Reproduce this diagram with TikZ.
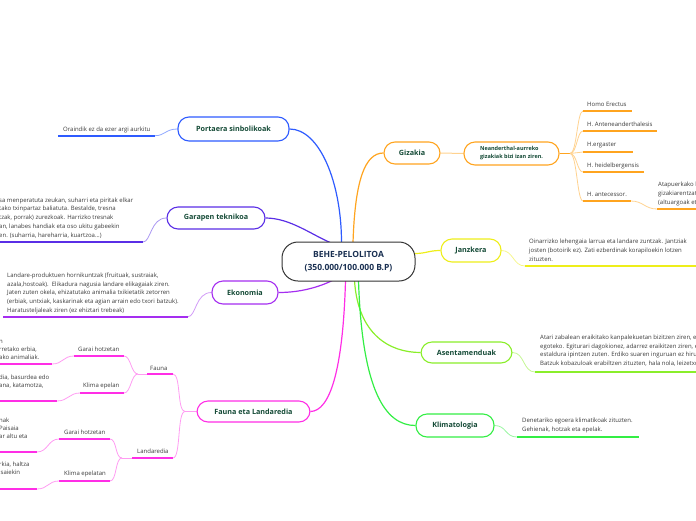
\documentclass[tikz,border=0pt]{standalone}
\usepackage{fontspec}
\setmainfont{Open Sans}
\usetikzlibrary{backgrounds,calc}
\definecolor{blueC}{HTML}{2E5BFF}
\definecolor{blueL}{HTML}{8FA8FF}
\definecolor{indigoC}{HTML}{5A2EE6}
\definecolor{indigoL}{HTML}{A996F2}
\definecolor{purpleC}{HTML}{A52EF0}
\definecolor{purpleL}{HTML}{D29CF7}
\definecolor{magentaC}{HTML}{FF2EE6}
\definecolor{magentaL}{HTML}{FF9CF2}
\definecolor{orangeC}{HTML}{FFA41F}
\definecolor{orangeL}{HTML}{FFD28F}
\definecolor{yellowC}{HTML}{EEEE1A}
\definecolor{yellowL}{HTML}{F6F68C}
\definecolor{limeC}{HTML}{8AEE2A}
\definecolor{limeL}{HTML}{C4F694}
\definecolor{greenC}{HTML}{33EE44}
\definecolor{greenL}{HTML}{99F6A1}
\definecolor{nodeT}{HTML}{144A36}
\definecolor{rootT}{HTML}{1A3052}
\definecolor{rootB}{HTML}{333333}
\definecolor{leafT}{HTML}{3A3A3A}
\tikzset{
  mmbranch/.style={draw=#1, line width=1.1pt, rounded corners=11pt, fill=white, text=nodeT,
    font=\bfseries\fontsize{7.2}{9}\selectfont, inner sep=0pt},
  mmleaf/.style={anchor=base west, inner sep=0pt, align=left, text=leafT,
    font=\fontsize{6}{8.7}\selectfont},
  mmlabel/.style={anchor=base west, inner sep=0pt, text=leafT, font=\fontsize{6}{7}\selectfont},
  uline/.style={draw=#1, line width=1.6pt},
  conn/.style={draw=#1, line width=1.2pt},
  thinconn/.style={draw=#1, line width=0.8pt},
}
\begin{document}
\begin{tikzpicture}[x=1pt,y=-1pt]
\useasboundingbox (0,0) rectangle (696,520);
% root
\node[draw=rootB, line width=1pt, rounded corners=16pt, fill=white, minimum width=133pt,
  minimum height=39pt, inner sep=0pt, align=center, text=rootT,
  font=\bfseries\fontsize{8.5}{13.3}\selectfont] (r) at (348.5,261.5) {BEHE-PELOLITOA\\(350.000/100.000 B.P)};
% main branches
\node[mmbranch=blueC, minimum width=111pt, minimum height=24pt] (P) at (233.5,129) {Portaera sinbolikoak};
\node[mmbranch=indigoC, minimum width=98pt, minimum height=22pt] (G) at (216,218) {Garapen teknikoa};
\node[mmbranch=purpleC, minimum width=66pt, minimum height=23pt] (E) at (245,292.5) {Ekonomia};
\node[mmbranch=magentaC, minimum width=113pt, minimum height=21pt] (F) at (253.5,411.5) {Fauna eta Landaredia};
\node[mmbranch=orangeC, minimum width=56pt, minimum height=22pt] (Gz) at (412,153) {Gizakia};
\node[mmbranch=orangeC, minimum width=95pt, minimum height=23pt, align=left,
  font=\bfseries\fontsize{5.5}{8}\selectfont] (N) at (511.5,153.5) {Neanderthal-aurreko\\gizakiak bizi izan ziren.};
\node[mmbranch=yellowC, minimum width=60pt, minimum height=23pt] (J) at (471,250.5) {Janzkera};
\node[mmbranch=limeC, minimum width=91pt, minimum height=21pt] (A) at (466.5,352.5) {Asentamenduak};
\node[mmbranch=greenC, minimum width=78pt, minimum height=23pt] (K) at (455,425.5) {Klimatologia};

% leaves (anchor = baseline of the last line)
\node[mmleaf] (Pl) at (63,131) {Oraindik ez da ezer argi aurkitu};
\draw[uline=blueC] (58,135.7) coordinate (Pu1) -- (155,135.7) coordinate (Pu2);

\node[mmleaf] (Gl) at (-1,237) {sa menperatuta zeukan, suharri eta piritak elkar\\tako txinpartaz baliatuta. Bestalde, tresna\\tzak, porrak) zurezkoak. Harrizko tresnak\\an, lanabes handiak eta oso ukitu gabeekin\\en. (suharria, hareharria, kuartzoa...)};
\draw[uline=indigoC] (-2,242) coordinate (Gu1) -- (143,242) coordinate (Gu2);

\node[mmleaf] (El) at (7,312.3) {Landare-produktuen hornikuntzak (fruituak, sustraiak,\\azala,hostoak).\ \ Elikadura nagusia landare elikagaiak ziren.\\Jaten zuten okela, ehizatutako animalia txikietatik zetorren\\(erbiak, untxiak, kaskarinak eta agian arrain edo txori batzuk).\\Haratusteljaleak ziren (ez ehiztari trebeak)};
\draw[uline=purpleC] (3,316.7) coordinate (Eu1) -- (188,316.7) coordinate (Eu2);

% Gizakia children
\node[mmlabel] (HE) at (587,106) {Homo Erectus};
\draw[uline=orangeC] (583,111) coordinate (HEu1) -- (632,111) coordinate (HEu2);
\node[mmlabel] (HA) at (587,126) {H. Anteneanderthalesis};
\draw[uline=orangeC] (583,131) coordinate (HAu1) -- (657,131) coordinate (HAu2);
\node[mmlabel] (HG) at (587,146.5) {H.ergaster};
\draw[uline=orangeC] (583,152) coordinate (HGu1) -- (633,152) coordinate (HGu2);
\node[mmlabel] (HH) at (587,167) {H. heidelbergensis};
\draw[uline=orangeC] (583,172) coordinate (HHu1) -- (644,172) coordinate (HHu2);
\node[mmlabel] (HT) at (587,196) {H. antecessor.};
\draw[uline=orangeC] (583,201) coordinate (HTu1) -- (631,201) coordinate (HTu2);
\node[mmleaf] (HTl) at (658,204) {Atapuerkako l\\gizakiarentzat\\(altuargoak eta};
\draw[uline=orangeC] (657,209) coordinate (HTlu1) -- (700,209) coordinate (HTlu2);

\node[mmleaf] (Jl) at (529,261) {Oinarrizko lehengaia larrua eta landare zuntzak. Jantziak\\josten (botoirik ez). Zati ezberdinak korapiloekin lotzen\\zituzten.};
\draw[uline=yellowC] (525,266) coordinate (Ju1) -- (700,266) coordinate (Ju2);

\node[mmleaf] (Al) at (540,365.5) {Atari zabalean eraikitako kanpalekuetan bizitzen ziren, eta\\egoteko. Egiturari dagokionez, adarrez eraikitzen ziren, eta\\estaldura ipintzen zuten. Erdiko suaren inguruan ez hiru\\Batzuk kobazuloak erabiltzen zituzten, hala nola, leizetxo};
\draw[uline=limeC] (535,372) coordinate (Au1) -- (700,372) coordinate (Au2);

\node[mmleaf] (Kl) at (522,431.5) {Denetariko egoera klimatikoak zituzten.\\Gehienak, hotzak eta epelak.};
\draw[uline=greenC] (517,437) coordinate (Ku1) -- (639,437) coordinate (Ku2);

% Fauna eta Landaredia subtree
\node[mmlabel] (Fa) at (150,370) {Fauna};
\draw[uline=magentaC] (147,374) coordinate (Fau1) -- (173,374) coordinate (Fau2);
\node[mmlabel] (La) at (137,453) {Landaredia};
\draw[uline=magentaC] (132,458) coordinate (Lau1) -- (173,458) coordinate (Lau2);

\node[mmlabel] (FGH) at (78,351) {Garai hotzetan};
\draw[uline=magentaC] (74,356) coordinate (FGHu1) -- (124,356) coordinate (FGHu2);
\node[mmlabel] (FKE) at (83,387.5) {Klima epelan};
\draw[uline=magentaC] (80,393) coordinate (FKEu1) -- (124,393) coordinate (FKEu2);
\node[mmleaf, font=\fontsize{6}{8}\selectfont] (FGHl) at (-1,359) {n\\rretako erbia,\\ako animaliak.};
\draw[uline=magentaC] (-2,364) coordinate (FGHlu1) -- (52,364) coordinate (FGHlu2);
\node[mmleaf, font=\fontsize{6}{8}\selectfont] (FKEl) at (-1,387) {dia, basurdea edo\\ana, katamotza,};
\draw[uline=magentaC] (-2,401) coordinate (FKElu1) -- (57,401) coordinate (FKElu2);

\node[mmlabel] (LGH) at (64,434) {Garai hotzetan};
\draw[uline=magentaC] (59,439) coordinate (LGHu1) -- (110,439) coordinate (LGHu2);
\node[mmlabel] (LKE) at (64,475.5) {Klima epelatan};
\draw[uline=magentaC] (59,481) coordinate (LKEu1) -- (110,481) coordinate (LKEu2);
\node[mmleaf, font=\fontsize{6}{8}\selectfont] (LGHl) at (-1,438) {nak\\Paisaia\\ar altu eta};
\draw[uline=magentaC] (-2,452) coordinate (LGHlu1) -- (37,452) coordinate (LGHlu2);
\node[mmleaf, font=\fontsize{6}{8}\selectfont] (LKEl) at (-1,474.5) {rkia, haltza\\isaiekin};
\draw[uline=magentaC] (-2,489) coordinate (LKElu1) -- (37,489) coordinate (LKElu2);

\begin{pgfonlayer}{background}
% root connectors
\draw[conn=blueC] (P.east) .. controls +(30,0) and +(0,-60) .. ($(r.north)+(-7,1)$);
\draw[conn=indigoC] (G.east) .. controls +(25,0) and +(-20,-8) .. ($(r.north)+(-16,2)$);
\draw[conn=purpleC] (E.east) .. controls +(25,0) and +(-12,6) .. ($(r.south)+(-14,-2)$);
\draw[conn=magentaC] ($(r.south)+(-3,-1)$) .. controls (343,370) and (330,411) .. (F.east);
\draw[conn=orangeC] ($(r.north)+(4.5,1)$) .. controls (355,180) and (365,153) .. (Gz.west);
\draw[conn=yellowC] ($(r.east)+(-1,-8)$) .. controls +(12,0) and +(-12,0) .. (J.west);
\draw[conn=limeC] ($(r.south)+(6,-1)$) .. controls (358,335) and (390,352.5) .. (A.west);
\draw[conn=greenC] ($(r.south)+(10,-1)$) .. controls (362,390) and (385,425.5) .. (K.west);
% leaf connectors
\draw[thinconn=blueL] (P.west) .. controls +(-12,0) and +(10,0) .. (Pu2);
\draw[thinconn=indigoL] (G.west) .. controls +(-16,0) and +(8,0) .. (Gu2);
\draw[thinconn=purpleL] (E.west) .. controls +(-16,0) and +(8,0) .. (Eu2);
\draw[thinconn=orangeL, line width=1pt] (Gz.east) -- (N.west);
\draw[conn=orangeC] (N.east) -- (570,153.5) coordinate (nf);
\foreach \c in {HEu1,HAu1,HGu1,HHu1,HTu1}
  \draw[thinconn=orangeL] (nf) .. controls +(7,0) and +(-6,0) .. (\c);
\draw[thinconn=orangeL] (HTu2) .. controls +(12,0) and +(-12,0) .. (HTlu1);
\draw[thinconn=yellowL] (J.east) .. controls +(12,0) and +(-12,0) .. (Ju1);
\draw[thinconn=limeL] (A.east) .. controls +(12,0) and +(-12,0) .. (Au1);
\draw[thinconn=greenL] (K.east) .. controls +(12,0) and +(-12,0) .. (Ku1);
% fauna subtree connectors
\draw[thinconn=magentaL] (F.west) -- (185,411.5) coordinate (ff);
\draw[thinconn=magentaL] (ff) .. controls +(-8,0) and +(8,0) .. (Fau2);
\draw[thinconn=magentaL] (ff) .. controls +(-8,0) and +(8,0) .. (Lau2);
\draw[thinconn=magentaL] (Fau1) -- (138,374) coordinate (faf);
\draw[thinconn=magentaL] (faf) .. controls +(-7,0) and +(7,0) .. (FGHu2);
\draw[thinconn=magentaL] (faf) .. controls +(-7,0) and +(7,0) .. (FKEu2);
\draw[thinconn=magentaL] (Lau1) -- (122,458) coordinate (laf);
\draw[thinconn=magentaL] (laf) .. controls +(-7,0) and +(7,0) .. (LGHu2);
\draw[thinconn=magentaL] (laf) .. controls +(-7,0) and +(7,0) .. (LKEu2);
\draw[thinconn=magentaL] (FGHu1) .. controls +(-11,0) and +(11,0) .. (FGHlu2);
\draw[thinconn=magentaL] (FKEu1) .. controls +(-11,0) and +(11,0) .. (FKElu2);
\draw[thinconn=magentaL] (LGHu1) .. controls +(-11,0) and +(11,0) .. (LGHlu2);
\draw[thinconn=magentaL] (LKEu1) .. controls +(-11,0) and +(11,0) .. (LKElu2);
\end{pgfonlayer}
\end{tikzpicture}
\end{document}
